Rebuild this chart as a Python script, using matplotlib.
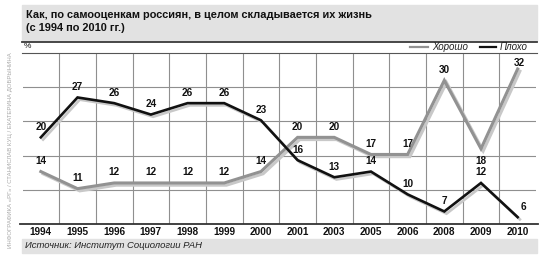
import matplotlib
matplotlib.use('Agg')
import matplotlib.pyplot as plt
import matplotlib.patheffects as pe
from matplotlib import font_manager
from matplotlib.patches import Rectangle
from matplotlib.lines import Line2D

# данные
years = ['1994', '1995', '1996', '1997', '1998', '1999', '2000',
         '2001', '2003', '2005', '2006', '2008', '2009', '2010']
good = [14, 11, 12, 12, 12, 12, 14, 20, 20, 17, 17, 30, 18, 32]
bad = [20, 27, 26, 24, 26, 26, 23, 16, 13, 14, 10, 7, 12, 6]
grid_y = [10.8, 16.8, 22.8, 28.8]

names = {f.name for f in font_manager.fontManager.ttflist}
NARROW = 'Liberation Sans Narrow' if 'Liberation Sans Narrow' in names else 'Liberation Sans'
plt.rcParams['font.family'] = ['Liberation Sans', 'DejaVu Sans']

W, H = 550, 264
fig = plt.figure(figsize=(W / 100, H / 100), dpi=100)


def fx(px):
    return px / W


def fy(py):
    return 1 - py / H


# область графика
L, R, T, B = 22.5, 536, 53, 224
ax = fig.add_axes([fx(L), fy(B), fx(R) - fx(L), fy(T) - fy(B)])
ax.set_xlim(-0.5, len(years) - 0.5)
ax.set_ylim(4.8, 34.8)
for s in ax.spines.values():
    s.set_visible(False)
ax.set_xticks([])
ax.set_yticks([])

for i in range(len(years) - 1):
    ax.axvline(i + 0.5, color='#8f8f8f', lw=0.8, zorder=1)
for g in grid_y:
    ax.axhline(g, color='#8f8f8f', lw=0.8, zorder=1)

x = list(range(len(years)))
shadow = [pe.SimpleLineShadow(offset=(1.6, -1.6), shadow_color='#c8c8c8', alpha=1), pe.Normal()]
ax.plot(x, good, color='#929292', lw=2.2, zorder=3, clip_on=False,
        solid_joinstyle='miter', path_effects=shadow)
ax.plot(x, bad, color='#111111', lw=1.9, zorder=4, clip_on=False,
        solid_joinstyle='miter', path_effects=shadow)

# подписи значений
good_off = {12: (0, -5), 13: (1, 1)}
bad_off = {13: (4, 4)}
for i, v in enumerate(good):
    dx, dy = good_off.get(i, (0, 4))
    ax.annotate(str(v), (i, v), xytext=(dx, dy), textcoords='offset points',
                ha='center', va='bottom' if dy > 0 else 'top', fontsize=7.2,
                fontweight='bold', family=NARROW, color='#111111', zorder=5)
for i, v in enumerate(bad):
    dx, dy = bad_off.get(i, (0, 4))
    ax.annotate(str(v), (i, v), xytext=(dx, dy), textcoords='offset points',
                ha='center', va='bottom' if dy > 0 else 'top', fontsize=7.2,
                fontweight='bold', family=NARROW, color='#111111', zorder=5)

# подписи годов
for i, y in enumerate(years):
    fig.text(fx(L + (R - L) * (i + 0.5) / len(years)), fy(232), y, ha='center', va='center',
             fontsize=7.2, fontweight='bold', family=NARROW, color='#111111')

# шапка
fig.patches.append(Rectangle((fx(22), fy(41)), fx(537) - fx(22), fy(5) - fy(41),
                             transform=fig.transFigure, color='#e2e2e2', zorder=0))
fig.text(fx(26), fy(10.5), 'Как, по самооценкам россиян, в целом складывается их жизнь\n(с 1994 по 2010 гг.)',
         ha='left', va='top', fontsize=7.9, fontweight='bold', color='#111111', linespacing=1.3)
fig.lines.append(Line2D([fx(22), fx(537)], [fy(41.5), fy(41.5)], transform=fig.transFigure,
                        color='#3a3a3a', lw=1.3))
fig.lines.append(Line2D([fx(22), fx(537)], [fy(T), fy(T)], transform=fig.transFigure,
                        color='#555555', lw=0.8))
fig.lines.append(Line2D([fx(20), fx(538)], [fy(B), fy(B)], transform=fig.transFigure,
                        color='#333333', lw=1.3))
fig.text(fx(24), fy(47), '%', ha='left', va='center', fontsize=6, color='#151515')

# легенда
fig.lines.append(Line2D([fx(410), fx(428)], [fy(47), fy(47)], transform=fig.transFigure,
                        color='#929292', lw=1.6))
fig.text(fx(432), fy(47), 'Хорошо', ha='left', va='center', fontsize=7,
         style='italic', family=NARROW, color='#222222')
fig.lines.append(Line2D([fx(480), fx(496)], [fy(47), fy(47)], transform=fig.transFigure,
                        color='#111111', lw=1.6))
fig.text(fx(500), fy(47), 'Плохо', ha='left', va='center', fontsize=7,
         style='italic', family=NARROW, color='#222222')

# источник
fig.patches.append(Rectangle((fx(22), fy(253)), fx(537) - fx(22), fy(239) - fy(253),
                             transform=fig.transFigure, color='#e2e2e2', zorder=0))
fig.text(fx(25), fy(246), 'Источник: Институт Социологии РАН', ha='left', va='center',
         fontsize=6.8, style='italic', family=NARROW, color='#222222')

fig.text(fx(11), fy(150), 'ИНФОГРАФИКА «РГ» / СТАНИСЛАВ КУЦ / ЕКАТЕРИНА ДОБРЫНИНА',
         rotation=90, ha='center', va='center', fontsize=4.3, color='#a8a8a8')

fig.savefig('out.png', dpi=100, facecolor='white')
